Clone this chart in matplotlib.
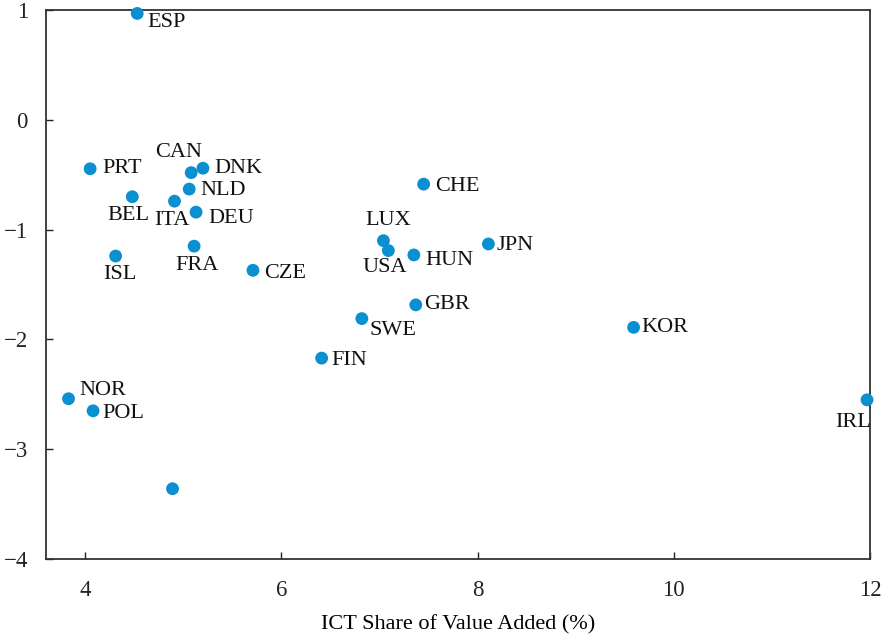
import matplotlib
matplotlib.use("Agg")
import matplotlib.pyplot as plt

plt.rcParams["font.family"] = ["Liberation Serif", "DejaVu Serif"]

countries = ["ESP", "PRT", "CAN", "DNK", "NLD", "BEL", "ITA", "DEU", "FRA", "ISL",
             "CZE", "CHE", "LUX", "USA", "HUN", "JPN", "GBR", "SWE", "FIN", "NOR",
             "POL", "", "KOR", "IRL"]
ict_share = [4.53, 4.05, 5.08, 5.20, 5.06, 4.48, 4.91, 5.13, 5.11, 4.31,
             5.71, 7.45, 7.04, 7.09, 7.35, 8.11, 7.37, 6.82, 6.41, 3.83,
             4.08, 4.89, 9.59, 11.97]
y_values = [0.97, -0.445, -0.48, -0.44, -0.63, -0.70, -0.74, -0.84, -1.15, -1.24,
            -1.37, -0.585, -1.10, -1.19, -1.23, -1.13, -1.685, -1.81, -2.17, -2.54,
            -2.65, -3.36, -1.89, -2.55]

# label placement (pixel offsets from the dot, horizontal alignment)
label_pos = {
    "ESP": (10, -9, "left"), "PRT": (12, 0, "left"), "CAN": (-13, 20, "center"),
    "DNK": (11, 0, "left"), "NLD": (11, -1, "left"), "BEL": (-4, -19, "center"),
    "ITA": (-3, -19, "center"), "DEU": (12, -6, "left"), "FRA": (3, -19, "center"),
    "ISL": (4, -18, "center"), "CZE": (11, -3, "left"), "CHE": (11, -2, "left"),
    "LUX": (5, 20, "center"), "USA": (-4, -17, "center"), "HUN": (12, -6, "left"),
    "JPN": (8, -2, "left"), "GBR": (8, 0, "left"), "SWE": (8, -12, "left"),
    "FIN": (10, -2, "left"), "NOR": (11, 8, "left"), "POL": (9, -3, "left"),
    "KOR": (8, 0, "left"), "IRL": (4, -23, "right"),
}

fig = plt.figure(figsize=(8.81, 6.35), dpi=100)
ax = fig.add_axes([0.0522, 0.1197, 0.9353, 0.8643])

ax.scatter(ict_share, y_values, s=85, color="#0a8fd0", zorder=3, clip_on=False,
           edgecolors="none")

for name, x, y in zip(countries, ict_share, y_values):
    if name == "":
        continue
    dx, dy, ha = label_pos[name]
    ax.annotate(name, (x, y), xytext=(dx, dy), textcoords="offset pixels",
                ha=ha, va="center", fontsize=16, color="#111111")

ax.set_xlim(3.6, 12)
ax.set_ylim(-4, 1)
ax.set_xticks([4, 6, 8, 10, 12])
ax.set_yticks([-4, -3, -2, -1, 0, 1])
ax.set_yticklabels(["\u22124", "\u22123", "\u22122", "\u22121", "0", "1"])
ax.tick_params(direction="in", length=5, width=1, labelsize=16.5, colors="#222222")
ax.tick_params(axis="x", pad=15)
ax.tick_params(axis="y", pad=13)
for sp in ax.spines.values():
    sp.set_linewidth(1.3)
    sp.set_color("#333333")

ax.set_xlabel("ICT Share of Value Added (%)", fontsize=16, labelpad=10)

fig.savefig("out.png", dpi=100)
